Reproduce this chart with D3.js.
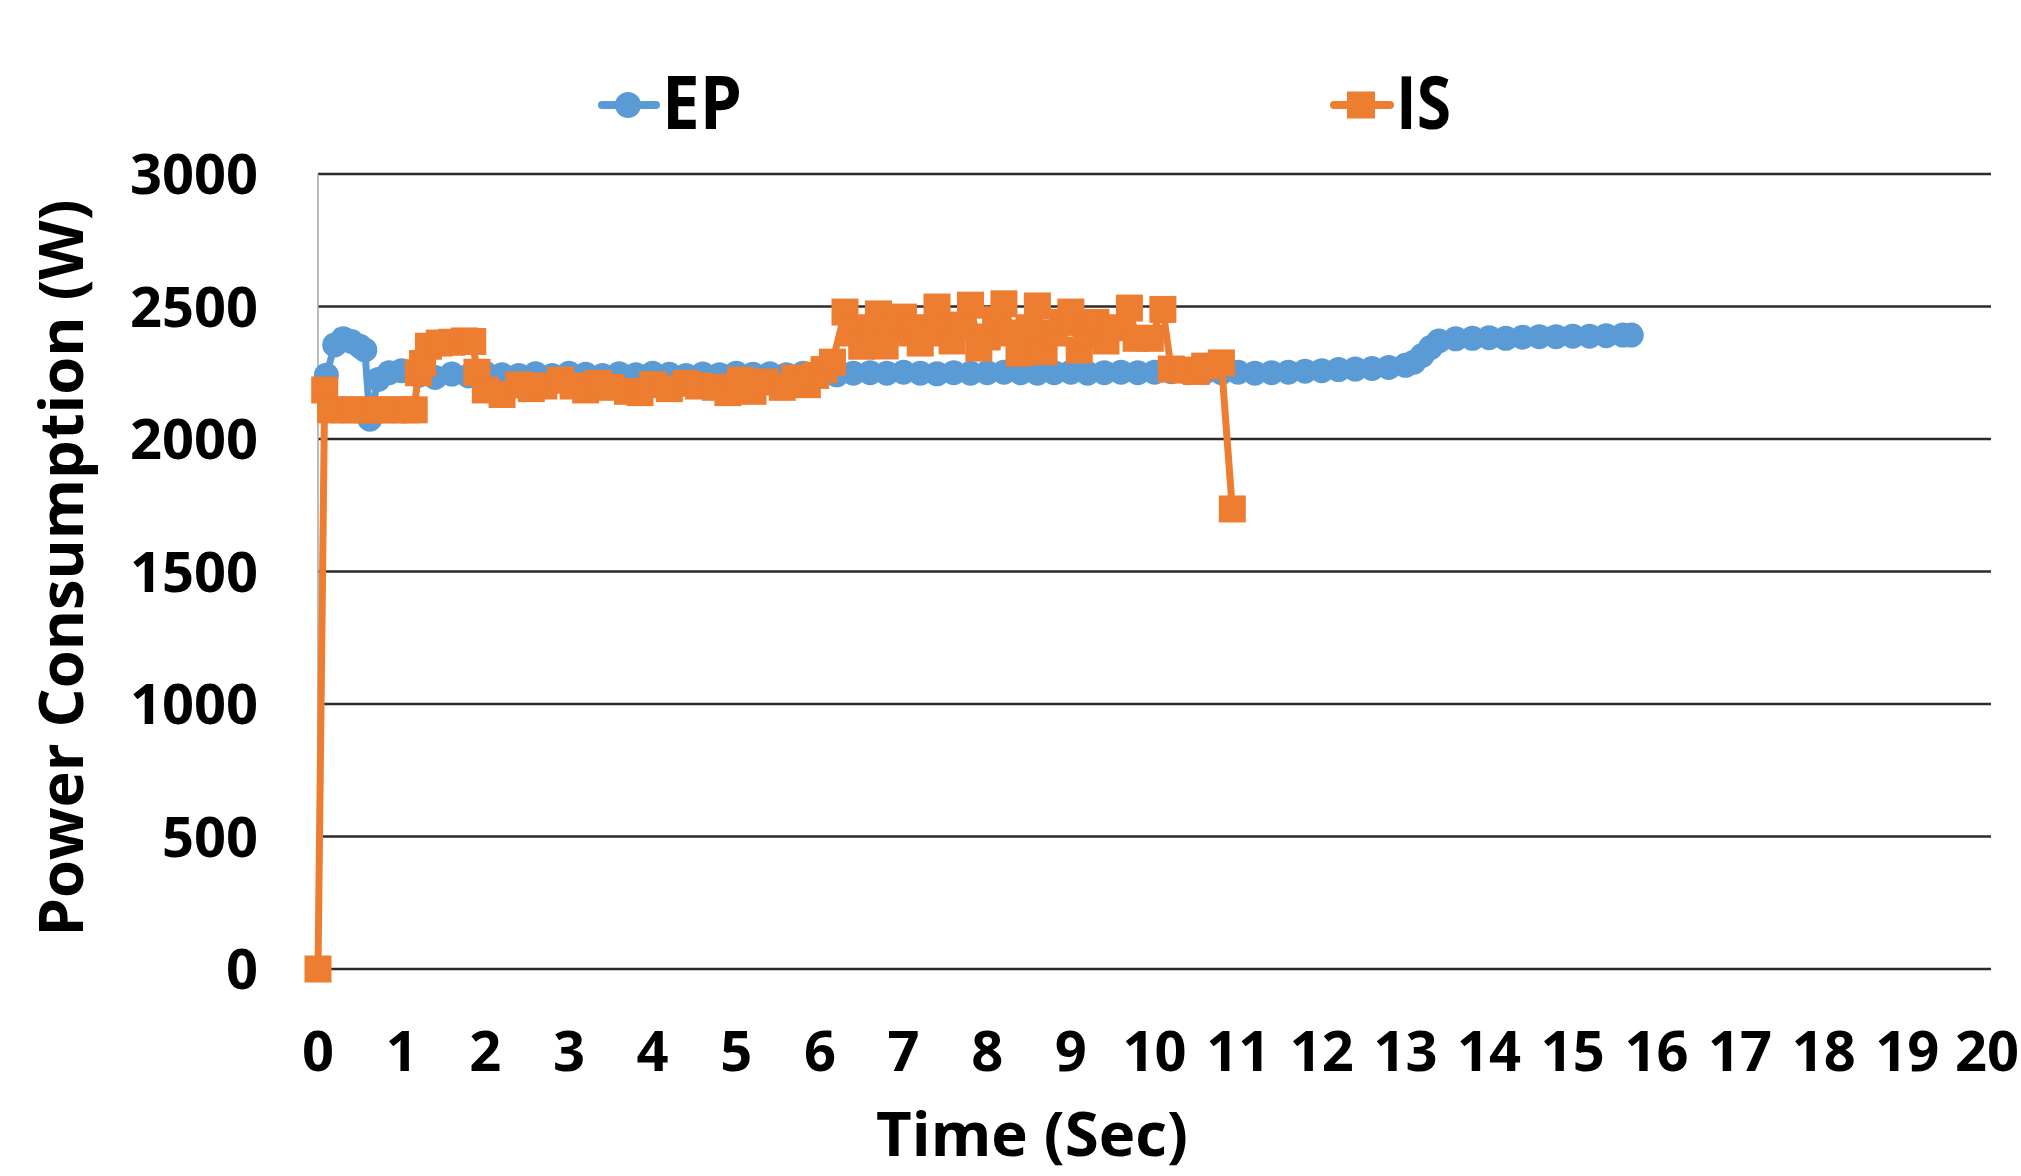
<!DOCTYPE html>
<html>
<head>
<meta charset="utf-8">
<script src="https://cdn.jsdelivr.net/npm/d3@7"></script>
<style>
  html, body { margin: 0; padding: 0; background: #fff; }
  svg { display: block; }
  text { font-family: "Open Sans", "DejaVu Sans", sans-serif; font-weight: 700; fill: #000; }
</style>
</head>
<body>
<svg id="chart" width="2021" height="1176"></svg>
<script>
// ---- Data ----
const seriesNames = ["EP", "IS"];
const xTicks = [0,1,2,3,4,5,6,7,8,9,10,11,12,13,14,15,16,17,18,19,20];
const yTicks = [0,500,1000,1500,2000,2500,3000];
const xTitle = "Time (Sec)";
const yTitle = "Power Consumption (W)";

const epTime = [0.1,0.2,0.3,0.4,0.5,0.56,0.62,0.72,0.85,1.0,1.2,1.4,1.6,1.8,2.0,2.2,2.4,2.6,2.8,3.0,
  3.2,3.4,3.6,3.8,4.0,4.2,4.4,4.6,4.8,5.0,5.2,5.4,5.6,5.8,6.0,6.2,6.4,6.6,6.8,7.0,
  7.2,7.4,7.6,7.8,8.0,8.2,8.4,8.6,8.8,9.0,9.2,9.4,9.6,9.8,10.0,10.2,10.4,10.6,10.8,11.0,
  11.2,11.4,11.6,11.8,12.0,12.2,12.4,12.6,12.8,13.0,13.1,13.2,13.3,13.4,13.6,13.8,14.0,14.2,14.4,14.6,
  14.8,15.0,15.2,15.4,15.6,15.7];
const epPower = [2241,2355,2378,2368,2350,2336,2075,2225,2250,2258,2240,2232,2245,2238,2248,2242,2240,2246,2240,2248,
  2244,2240,2246,2242,2248,2244,2240,2245,2242,2248,2244,2246,2242,2248,2246,2242,2248,2250,2248,2252,
  2248,2246,2250,2248,2250,2252,2250,2248,2250,2252,2248,2250,2252,2250,2252,2254,2250,2252,2250,2252,
  2248,2250,2252,2256,2258,2262,2264,2266,2270,2278,2290,2315,2345,2370,2378,2380,2382,2380,2384,2386,
  2386,2388,2388,2390,2392,2392];

const isTime = [0.0,0.08,0.15,0.3,0.45,0.6,0.75,0.9,1.05,1.15,1.2,1.25,1.32,1.45,1.6,1.75,1.85,1.9,2.0,2.2,
  2.4,2.55,2.7,2.9,3.05,3.2,3.35,3.5,3.7,3.85,4.0,4.2,4.4,4.55,4.75,4.9,5.05,5.2,5.35,5.55,
  5.7,5.85,5.95,6.05,6.15,6.3,6.4,6.5,6.6,6.7,6.78,6.9,7.0,7.1,7.2,7.3,7.4,7.5,7.58,7.7,
  7.8,7.9,8.0,8.1,8.2,8.3,8.38,8.5,8.6,8.68,8.8,8.9,9.0,9.1,9.2,9.3,9.42,9.55,9.7,9.78,
  9.95,10.1,10.2,10.35,10.5,10.6,10.8,10.93];
const isPower = [0,2185,2110,2110,2110,2110,2110,2110,2110,2110,2250,2285,2350,2362,2365,2370,2368,2252,2185,2168,
  2204,2190,2200,2222,2200,2185,2210,2195,2180,2175,2205,2190,2210,2200,2195,2175,2222,2180,2215,2195,
  2230,2205,2240,2262,2290,2479,2400,2350,2420,2472,2351,2420,2460,2400,2362,2420,2498,2400,2370,2430,
  2505,2343,2385,2450,2510,2400,2324,2420,2502,2329,2400,2440,2479,2336,2400,2440,2370,2420,2494,2380,
  2380,2489,2264,2260,2255,2275,2287,1736];

const colors = { EP: "#5B9BD5", IS: "#ED7D31" };

// ---- Layout ----
const svg = d3.select("#chart");
const plotLeft = 318, plotRight = 1991, plotTop = 174, plotBottom = 969;
const x = d3.scaleLinear().domain([0, 20]).range([plotLeft, plotRight]);
const y = d3.scaleLinear().domain([0, 3000]).range([plotBottom, plotTop]);

// Gridlines
svg.append("g").selectAll("line").data(yTicks).join("line")
  .attr("x1", plotLeft).attr("x2", plotRight)
  .attr("y1", d => y(d)).attr("y2", d => y(d))
  .attr("stroke", "#2b2b2b").attr("stroke-width", 2.5);

// Left axis line
svg.append("line").attr("x1", plotLeft).attr("x2", plotLeft)
  .attr("y1", plotTop).attr("y2", plotBottom)
  .attr("stroke", "#a6a6a6").attr("stroke-width", 1.5);

// Y tick labels
svg.append("g").selectAll("text").data(yTicks).join("text")
  .attr("x", 258).attr("y", d => y(d) + 20)
  .attr("text-anchor", "end").attr("font-size", 56)
  .text(d => d);

// X tick labels (last one kept inside the canvas)
const lastTick = xTicks[xTicks.length - 1];
svg.append("g").selectAll("text").data(xTicks).join("text")
  .attr("x", d => d === lastTick ? 2019 : x(d)).attr("y", 1071)
  .attr("text-anchor", d => d === lastTick ? "end" : "middle").attr("font-size", 56)
  .text(d => d);

// Axis titles
svg.append("text").attr("x", 1032).attr("y", 1156)
  .attr("text-anchor", "middle").attr("font-size", 60)
  .attr("textLength", 312).attr("lengthAdjust", "spacingAndGlyphs")
  .text(xTitle);
svg.append("text").attr("transform", "translate(83,568) rotate(-90)")
  .attr("text-anchor", "middle").attr("font-size", 60)
  .attr("textLength", 737).attr("lengthAdjust", "spacingAndGlyphs")
  .text(yTitle);

// Series
const ep = epTime.map((t, i) => ({ t, v: epPower[i] }));
const is = isTime.map((t, i) => ({ t, v: isPower[i] }));
const line = d3.line().x(d => x(d.t)).y(d => y(d.v));

svg.append("path").datum(ep).attr("d", line)
  .attr("fill", "none").attr("stroke", colors.EP).attr("stroke-width", 7)
  .attr("stroke-linejoin", "round");
svg.append("g").selectAll("circle").data(ep).join("circle")
  .attr("cx", d => x(d.t)).attr("cy", d => y(d.v)).attr("r", 12.5)
  .attr("fill", colors.EP);

const sq = 27;
svg.append("path").datum(is).attr("d", line)
  .attr("fill", "none").attr("stroke", colors.IS).attr("stroke-width", 7)
  .attr("stroke-linejoin", "round");
svg.append("g").selectAll("rect").data(is).join("rect")
  .attr("x", d => x(d.t) - sq / 2).attr("y", d => y(d.v) - sq / 2)
  .attr("width", sq).attr("height", sq)
  .attr("fill", colors.IS);

// Legend
const legend = [
  { name: seriesNames[0], x1: 602, x2: 656, mx: 628, tx: 662, tw: 80 },
  { name: seriesNames[1], x1: 1334, x2: 1390, mx: 1361, tx: 1396, tw: 55 }
];
const lg = svg.append("g");
legend.forEach(l => {
  lg.append("line").attr("x1", l.x1).attr("x2", l.x2).attr("y1", 105).attr("y2", 105)
    .attr("stroke", colors[l.name]).attr("stroke-width", 8).attr("stroke-linecap", "round");
  if (l.name === "EP") {
    lg.append("circle").attr("cx", l.mx).attr("cy", 105).attr("r", 13).attr("fill", colors.EP);
  } else {
    lg.append("rect").attr("x", l.mx - 14).attr("y", 105 - 13.5).attr("width", 28).attr("height", 27)
      .attr("fill", colors.IS);
  }
  lg.append("text").attr("x", l.tx).attr("y", 129).attr("font-size", 73)
    .attr("textLength", l.tw).attr("lengthAdjust", "spacingAndGlyphs")
    .text(l.name);
});
</script>
</body>
</html>
